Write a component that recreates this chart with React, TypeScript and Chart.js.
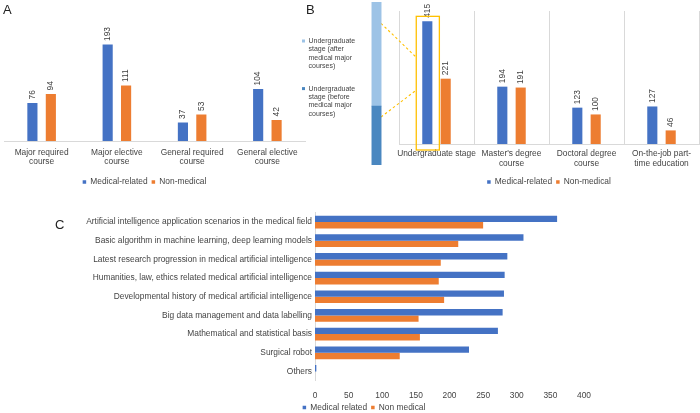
import React, { useEffect, useRef } from 'react';
import { Chart, registerables } from 'chart.js';

Chart.register(...registerables);

const FONT = "'Liberation Sans', Arial, Helvetica, sans-serif";
const BLUE = '#4472c4';
const ORANGE = '#ed7d31';
const GRID = '#d9d9d9';
const TEXT = '#444444';
const VALUE_TEXT = '#404040';
const LIGHT_BLUE = '#9dc3e6';
const MID_BLUE = '#4a87c0';
const HIGHLIGHT = '#ffc000';

// ---- Panel A: course types
const courseCategories = [
  ['Major required', 'course'],
  ['Major elective', 'course'],
  ['General required', 'course'],
  ['General elective', 'course'],
];
const courseMedical = [76, 193, 37, 104];
const courseNonMedical = [94, 111, 53, 42];

// ---- Panel B: education stage
const stageCategories = [
  ['Undergraduate stage'],
  ["Master's degree", 'course'],
  ['Doctoral degree', 'course'],
  ['On-the-job part-', 'time education'],
];
const stageMedical = [415, 194, 123, 127];
const stageNonMedical = [221, 191, 100, 46];

// ---- Panel B inset: undergraduate split
const undergradCategory = ['Undergraduate stage'];
const undergradBeforeLabel = ['Undergraduate', 'stage (before', 'medical major', 'courses)'];
const undergradAfterLabel = ['Undergraduate', 'stage (after', 'medical major', 'courses)'];
const undergradBefore = [150];
const undergradAfter = [265];

// ---- Panel C: content topics
const topicCategories = [
  'Artificial intelligence application scenarios in the medical field',
  'Basic algorithm in machine learning, deep learning models',
  'Latest research progression in medical artificial intelligence',
  'Humanities, law, ethics related medical artificial intelligence',
  'Developmental history of medical artificial intelligence',
  'Big data management and data labelling',
  'Mathematical and statistical basis',
  'Surgical robot',
  'Others',
];
const topicMedical = [360, 310, 286, 282, 281, 279, 272, 229, 2];
const topicNonMedical = [250, 213, 187, 184, 192, 154, 156, 126, 0];
const topicTicks = [0, 50, 100, 150, 200, 250, 300, 350, 400];

Chart.defaults.font.family = FONT;
Chart.defaults.color = TEXT;

const tickFont = { size: 8.4, family: FONT, lineHeight: 1.1 };
const legendLabels = {
  boxWidth: 3.5,
  boxHeight: 3.5,
  padding: 4,
  color: TEXT,
  font: { size: 8.4, family: FONT },
};

const valueLabelPlugin = {
  id: 'valueLabels',
  afterDatasetsDraw(chart: any) {
    const ctx = chart.ctx;
    ctx.save();
    ctx.font = `8.4px ${FONT}`;
    ctx.fillStyle = VALUE_TEXT;
    ctx.textAlign = 'left';
    ctx.textBaseline = 'middle';
    chart.data.datasets.forEach((ds: any, di: number) => {
      const meta = chart.getDatasetMeta(di);
      meta.data.forEach((el: any, i: number) => {
        ctx.save();
        ctx.translate(el.x, el.y - 3.5);
        ctx.rotate(-Math.PI / 2);
        ctx.fillText(String(ds.data[i]), 0, 0);
        ctx.restore();
      });
    });
    ctx.restore();
  },
};

const highlightPlugin = {
  id: 'highlight',
  afterDatasetsDraw(chart: any) {
    const el = chart.getDatasetMeta(0).data[0];
    if (!el) return;
    const { x, y, base, width } = el.getProps(['x', 'y', 'base', 'width'], true);
    const h = base - y;
    const ctx = chart.ctx;
    const left = x - width / 2 - 6;
    const right = x + width / 2 + 7;
    ctx.save();
    ctx.strokeStyle = HIGHLIGHT;
    ctx.lineWidth = 1.3;
    ctx.strokeRect(left, y - 5, right - left, h + 11);
    ctx.setLineDash([2.5, 2.5]);
    ctx.lineWidth = 1.1;
    const fromX = chart.chartArea.left - 18;
    ctx.beginPath();
    ctx.moveTo(fromX, y + 0.016 * h);
    ctx.lineTo(left, y + 0.293 * h);
    ctx.moveTo(fromX, y + 0.78 * h);
    ctx.lineTo(left, y + 0.561 * h);
    ctx.stroke();
    ctx.restore();
  },
};

const hiddenAxis = (width: number, position: string, extra: any = {}) => ({
  display: true,
  position,
  ticks: { display: false },
  grid: { display: false },
  border: { display: false },
  afterFit: (s: any) => {
    s.width = width;
  },
  ...extra,
});

function useChart(ref: React.RefObject<HTMLCanvasElement | null>, makeConfig: () => any) {
  useEffect(() => {
    if (!ref.current) return;
    const chart = new Chart(ref.current, makeConfig());
    return () => chart.destroy();
  }, []);
}

export default function App() {
  const aRef = useRef<HTMLCanvasElement>(null);
  const bRef = useRef<HTMLCanvasElement>(null);
  const insetRef = useRef<HTMLCanvasElement>(null);
  const cRef = useRef<HTMLCanvasElement>(null);

  useChart(aRef, () => ({
    type: 'bar',
    data: {
      labels: courseCategories,
      datasets: [
        { label: 'Medical-related', data: courseMedical, backgroundColor: BLUE, categoryPercentage: 0.49, barPercentage: 0.55 },
        { label: 'Non-medical', data: courseNonMedical, backgroundColor: ORANGE, categoryPercentage: 0.49, barPercentage: 0.55 },
      ],
    },
    plugins: [valueLabelPlugin],
    options: {
      animation: false,
      responsive: false,
      layout: { padding: { top: 16, bottom: 3.8, left: 0, right: 0 } },
      plugins: {
        legend: { position: 'bottom', labels: legendLabels },
        tooltip: { enabled: false },
      },
      scales: {
        x: {
          grid: { display: true, drawOnChartArea: false, drawTicks: false },
          border: { color: GRID },
          ticks: { color: TEXT, font: tickFont, padding: 7, maxRotation: 0, autoSkip: false },
          afterFit: (s: any) => {
            s.height = 32.8;
          },
        },
        y: hiddenAxis(25, 'left', { min: 0, max: 250 }),
        yR: hiddenAxis(5, 'right', { type: 'linear' }),
      },
    },
  }));

  useChart(bRef, () => ({
    type: 'bar',
    data: {
      labels: stageCategories,
      datasets: [
        { label: 'Medical-related', data: stageMedical, backgroundColor: BLUE, categoryPercentage: 0.49, barPercentage: 0.55 },
        { label: 'Non-medical', data: stageNonMedical, backgroundColor: ORANGE, categoryPercentage: 0.49, barPercentage: 0.55 },
      ],
    },
    plugins: [valueLabelPlugin, highlightPlugin],
    options: {
      animation: false,
      responsive: false,
      layout: { padding: { top: 11, bottom: 3.8, left: 99, right: 1 } },
      plugins: {
        legend: { position: 'bottom', labels: legendLabels },
        tooltip: { enabled: false },
      },
      scales: {
        x: {
          grid: { display: true, color: GRID, drawTicks: false, offset: true },
          border: { color: GRID },
          ticks: { color: TEXT, font: tickFont, padding: 5.4, maxRotation: 0, autoSkip: false },
          afterFit: (s: any) => {
            s.height = 29.8;
          },
        },
        y: { display: false, min: 0, max: 450 },
      },
    },
  }));

  useChart(insetRef, () => ({
    type: 'bar',
    data: {
      labels: undergradCategory,
      datasets: [
        { label: undergradBeforeLabel, data: undergradBefore, backgroundColor: MID_BLUE, barThickness: 9.3 },
        { label: undergradAfterLabel, data: undergradAfter, backgroundColor: LIGHT_BLUE, barThickness: 9.3 },
      ],
    },
    options: {
      animation: false,
      responsive: false,
      layout: { padding: { top: 2, bottom: 5, left: 0, right: 0 } },
      plugins: {
        legend: {
          position: 'chartArea',
          align: 'start',
          reverse: true,
          title: { display: true, text: '', padding: { top: 8, bottom: 7.1 }, font: { size: 7 } },
          labels: {
            boxWidth: 3,
            boxHeight: 3,
            padding: 14,
            color: TEXT,
            font: { size: 7, family: FONT, lineHeight: 1.2 },
          },
        },
        tooltip: { enabled: false },
      },
      scales: {
        x: { stacked: true, display: false },
        y: { stacked: true, display: false, min: 0, max: 415 },
      },
    },
  }));

  useChart(cRef, () => ({
    type: 'bar',
    data: {
      labels: topicCategories,
      datasets: [
        { label: 'Medical related', data: topicMedical, backgroundColor: BLUE, categoryPercentage: 0.68, barPercentage: 1 },
        { label: 'Non medical', data: topicNonMedical, backgroundColor: ORANGE, categoryPercentage: 0.68, barPercentage: 1 },
      ],
    },
    options: {
      indexAxis: 'y',
      animation: false,
      responsive: false,
      layout: { padding: { top: 7.7, bottom: 0.3, left: 0, right: 0 } },
      plugins: {
        legend: { position: 'bottom', labels: legendLabels },
        tooltip: { enabled: false },
      },
      scales: {
        x: {
          type: 'linear',
          min: topicTicks[0],
          max: topicTicks[topicTicks.length - 1],
          grid: { display: false },
          border: { display: false },
          ticks: { color: TEXT, font: tickFont, padding: 2.6 },
          afterBuildTicks: (s: any) => {
            s.ticks = topicTicks.map((v) => ({ value: v }));
          },
          afterFit: (s: any) => {
            s.height = 18.5;
          },
        },
        y: {
          grid: { display: true, drawOnChartArea: false, drawTicks: false },
          border: { color: GRID },
          ticks: { color: TEXT, font: tickFont, padding: 3, autoSkip: false },
          afterFit: (s: any) => {
            s.width = 287;
          },
        },
        yR: hiddenAxis(116, 'right', { type: 'linear' }),
      },
    },
  }));

  const letter: React.CSSProperties = {
    position: 'absolute',
    fontFamily: FONT,
    fontSize: 13,
    lineHeight: '13px',
    color: '#222',
  };

  return (
    <div
      style={{
        position: 'fixed',
        left: 0,
        top: 0,
        width: 700,
        height: 413,
        overflow: 'hidden',
        background: '#fff',
      }}
    >
      <canvas ref={aRef} width={331} height={200} style={{ position: 'absolute', left: -21, top: 0 }} />
      <canvas ref={bRef} width={400} height={200} style={{ position: 'absolute', left: 300, top: 0 }} />
      <canvas ref={insetRef} width={177} height={170} style={{ position: 'absolute', left: 288, top: 0 }} />
      <canvas ref={cRef} width={672} height={217} style={{ position: 'absolute', left: 28, top: 205 }} />
      <div style={{ ...letter, left: 3, top: 3 }}>A</div>
      <div style={{ ...letter, left: 306, top: 3 }}>B</div>
      <div style={{ ...letter, left: 55, top: 218 }}>C</div>
    </div>
  );
}
